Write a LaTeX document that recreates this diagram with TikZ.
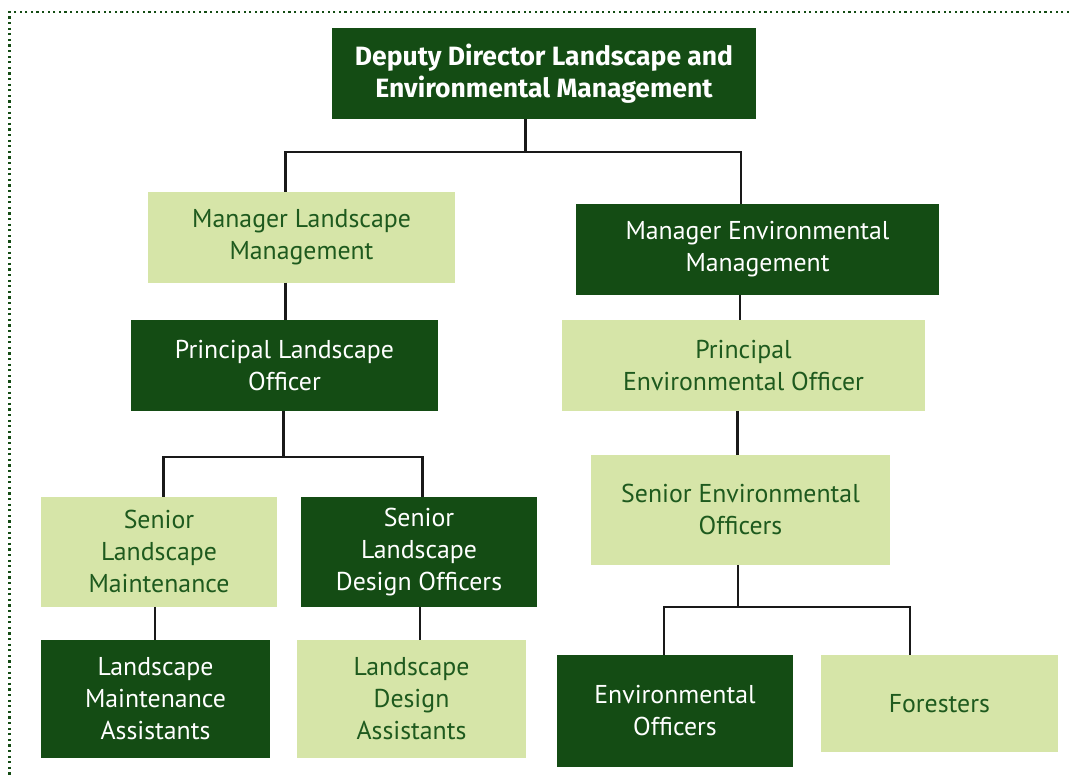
\documentclass[tikz,border=0pt]{standalone}
\usepackage{fontspec}
\setmainfont{PT Sans}
\newfontfamily\headfont{Fira Sans}
\begin{document}
\definecolor{darkgreen}{HTML}{144C14}
\definecolor{lightgreen}{HTML}{D6E5A8}
\definecolor{textgreen}{HTML}{1E5A1E}
\begin{tikzpicture}[x=1pt,y=-1pt,
  box/.style={inner sep=0pt, align=center, font=\fontsize{25.8}{32}\selectfont},
  dk/.style={box, fill=darkgreen, text=white},
  lt/.style={box, fill=lightgreen, text=textgreen},
  link/.style={draw=black!90, line width=2.5pt},
  frame/.style={draw=darkgreen, line width=2.2pt, dash pattern=on 2.2pt off 3.4pt}]
\useasboundingbox (0,0) rectangle (1069,778);
% dotted frame along the top and left edges
\draw[frame] (1069,12) -- (9.5,12) -- (9.5,778);

% boxes
\node[dk, minimum width=424pt, minimum height=90.7pt, font=\headfont\fontsize{26.5}{32}\selectfont\bfseries]
  (top) at (544,73.4) {Deputy Director Landscape and\\Environmental Management};
\node[lt, minimum width=307pt, minimum height=90.5pt] (mlm) at (301.5,237.3) {Manager Landscape\\Management};
\node[dk, minimum width=363pt, minimum height=90.7pt] (mem) at (757.5,249.3) {Manager Environmental\\Management};
\node[dk, minimum width=307pt, minimum height=90.7pt] (plo) at (284.5,365.3) {Principal Landscape\\Officer};
\node[lt, minimum width=363pt, minimum height=90.7pt] (peo) at (743.5,365.3) {Principal\\Environmental Officer};
\node[lt, minimum width=236pt, minimum height=109.7pt] (slm) at (159,551.8) {Senior\\Landscape\\Maintenance};
\node[dk, minimum width=236pt, minimum height=109.7pt] (sldo) at (419,551.8) {Senior\\Landscape\\Design Officers};
\node[lt, minimum width=299pt, minimum height=109.7pt] (seo) at (740.5,509.8) {Senior Environmental\\Officers};
\node[dk, minimum width=229pt, minimum height=117.7pt] (lma) at (155.5,698.8) {Landscape\\Maintenance\\Assistants};
\node[lt, minimum width=229pt, minimum height=117.7pt] (lda) at (411.5,698.8) {Landscape\\Design\\Assistants};
\node[dk, minimum width=236pt, minimum height=111.7pt] (eo) at (675,710.8) {Environmental\\Officers};
\node[lt, minimum width=236.6pt, minimum height=97pt] (fo) at (939.3,703.5) {Foresters};

% connectors
\draw[link] ([xshift=-18.5pt]top.south) -- ++(0,33.3) coordinate (j1);
\draw[link] (j1) -| ([xshift=-16pt]mlm.north);
\draw[link] (j1) -| ([xshift=-16.5pt]mem.north);
\draw[link] ([xshift=-16pt]mlm.south) -- ([xshift=1pt]plo.north);
\draw[link] ([xshift=-17.5pt]mem.south) -- ([xshift=-3.5pt]peo.north);
\draw[link] ([xshift=-6pt]peo.south) -- ([xshift=-3pt]seo.north);
\draw[link] ([xshift=-0.8pt]plo.south) -- ++(0,46) coordinate (j2);
\draw[link] (j2) -| ([xshift=4.6pt]slm.north);
\draw[link] (j2) -| ([xshift=3.5pt]sldo.north);
\draw[link] ([xshift=-4pt]slm.south) -- ([xshift=-0.5pt]lma.north);
\draw[link] ([xshift=1pt]sldo.south) -- ([xshift=8.5pt]lda.north);
\draw[link] ([xshift=-2.5pt]seo.south) -- ++(0,42.3) coordinate (j3);
\draw[link] (j3) -| ([xshift=-11pt]eo.north);
\draw[link] (j3) -| ([xshift=-29.3pt]fo.north);
\end{tikzpicture}
\end{document}
